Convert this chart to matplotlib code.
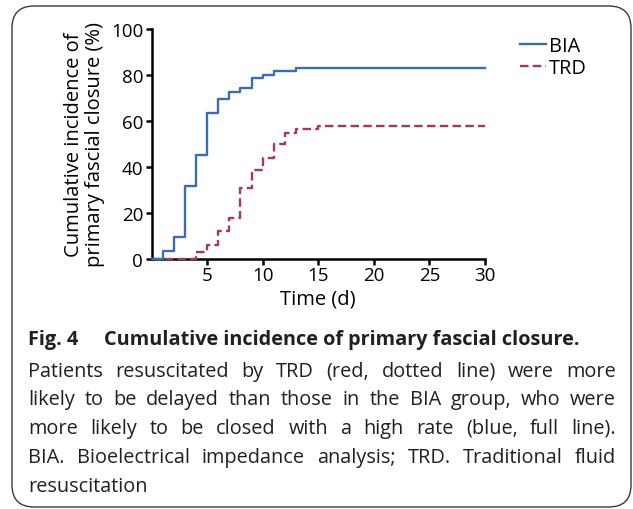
import matplotlib
matplotlib.use("Agg")
import matplotlib.pyplot as plt
from matplotlib.patches import FancyBboxPatch

plt.rcParams['font.family'] = ['Open Sans', 'DejaVu Sans']

# ---- data ----
bia_days = [0, 1, 2, 3, 4, 5, 6, 7, 8, 9, 10, 11, 13, 30]
bia_vals = [0, 3.3, 9.5, 31.9, 45.4, 63.5, 69.6, 72.5, 74.2, 78.6, 80.1, 81.6, 83.0, 83.0]
trd_days = [0, 4, 5, 6, 7, 8, 9, 10, 11, 12, 13, 15, 30]
trd_vals = [0, 3.2, 6.0, 12.0, 17.7, 30.9, 38.8, 43.8, 50.0, 54.8, 56.5, 58.0, 58.0]
series_labels = ["BIA", "TRD"]
x_ticks = [5, 10, 15, 20, 25, 30]
y_ticks = [0, 20, 40, 60, 80, 100]
x_label = "Time (d)"
y_label = "Cumulative incidence of\nprimary fascial closure (%)"
caption_title_a = "Fig. 4"
caption_title_b = "Cumulative incidence of primary fascial closure."
caption_lines = [
    "Patients resuscitated by TRD (red, dotted line) were more",
    "likely to be delayed than those in the BIA group, who were",
    "more likely to be closed with a high rate (blue, full line).",
    "BIA. Bioelectrical impedance analysis; TRD. Traditional fluid",
    "resuscitation",
]

W, H = 633, 510
fig = plt.figure(figsize=(W / 100, H / 100), dpi=100)

def fx(px):
    return px / W

def fy(py):
    return 1 - py / H

# border
box = FancyBboxPatch((fx(12), fy(508)), fx(631) - fx(12), fy(7) - fy(508),
                     boxstyle="round,pad=0,rounding_size=0.035",
                     transform=fig.transFigure, fill=False,
                     edgecolor='#3a3a3a', linewidth=1.0, mutation_aspect=W / H)
fig.patches.append(box)

ax = fig.add_axes([fx(151.5), fy(260), fx(485) - fx(151.5), fy(30) - fy(260)])
blue = '#3a6db5'
red = '#a8375f'
ax.step(bia_days, bia_vals, where='post', color=blue, lw=1.7, label=series_labels[0],
        clip_on=False, zorder=4)
ax.step(trd_days, trd_vals, where='post', color=red, lw=1.7, label=series_labels[1],
        linestyle=(0, (3.6, 1.8)), clip_on=False, zorder=3)

ax.set_xlim(0, 30)
ax.set_ylim(0, 100)
ax.set_xticks(x_ticks)
ax.set_yticks(y_ticks)
for s in ['top', 'right']:
    ax.spines[s].set_visible(False)
for s in ['left', 'bottom']:
    ax.spines[s].set_linewidth(1.8)
    ax.spines[s].set_color('black')
ax.tick_params(axis='both', direction='out', length=4.5, width=1.8, labelsize=13.5,
               colors='black', pad=1.5)
ax.tick_params(axis='x', pad=0.5)

lab_fs = 14.5
ax.set_xlabel(x_label, fontsize=lab_fs, labelpad=3)
ax.set_ylabel(y_label, fontsize=lab_fs, linespacing=1.06)
ax.yaxis.set_label_coords((105 - 151.5) / 333.5, 0.5)

leg = ax.legend(loc='upper left', bbox_to_anchor=(fx(520), fy(37)),
                bbox_transform=fig.transFigure, frameon=False, fontsize=14.3,
                handlelength=1.3, handletextpad=0.15, labelspacing=0.12,
                borderpad=0, borderaxespad=0)

# caption
cap_fs = 14.3
cap_col = '#231f20'
fig.text(fx(28), fy(340), caption_title_a, fontsize=cap_fs, fontweight='bold',
         ha='left', va='center', color=cap_col)
fig.text(fx(104), fy(340), caption_title_b, fontsize=cap_fs, fontweight='bold',
         ha='left', va='center', color=cap_col)

renderer = fig.canvas.get_renderer()
left_px, right_px = 28, 616
line_y = [372, 400, 429, 458, 487]
for i, line in enumerate(caption_lines):
    words = line.split(' ')
    if i == len(caption_lines) - 1:
        fig.text(fx(left_px), fy(line_y[i]), line, fontsize=cap_fs, ha='left',
                 va='center', color=cap_col)
        continue
    objs = []
    widths = []
    for w in words:
        t = fig.text(0, fy(line_y[i]), w, fontsize=cap_fs, ha='left', va='center',
                     color=cap_col)
        objs.append(t)
        widths.append(t.get_window_extent(renderer).width)
    gap = (right_px - left_px - sum(widths)) / (len(words) - 1)
    x = left_px
    for t, wdt in zip(objs, widths):
        t.set_x(fx(x))
        x += wdt + gap

fig.savefig('out.png', dpi=100)
